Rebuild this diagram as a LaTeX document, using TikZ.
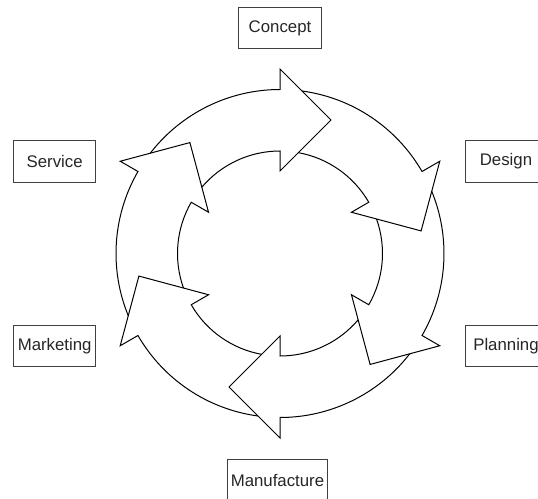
\documentclass[tikz,border=0pt]{standalone}
\usepackage{fontspec}
\setmainfont{Liberation Sans}
\usetikzlibrary{positioning}

% one arrow of the ring, head base at angle #1
\newcommand{\ringarrow}[1]{%
  \draw[line width=1pt, line join=miter] (#1+52.3:164) arc[start angle=#1+52.3, end angle=#1, radius=164]
    -- (#1:184.5) -- (#1-20.91:142.91) -- (#1:82.5) -- (#1:102.5)
    arc[start angle=#1, end angle=#1+49.7, radius=102.5];}

\tikzset{stage/.style={draw=black!75, line width=1pt, rectangle, minimum width=82pt, minimum height=41pt,
    inner xsep=3pt, text=black!85, font=\fontsize{16.8}{20}\selectfont}}

\begin{document}
\begin{tikzpicture}[x=1pt, y=1pt]
    \useasboundingbox (-280,-244.5) rectangle (258,253.5);
    \clip (-280,-244.5) rectangle (258,253.5);

    \node[stage] (concept) at (0,225.3) {Concept};
    \node[stage] (design) at (226,92) {Design};
    \node[stage] (planning) at (226,-92.8) {Planning};
    \node[stage] (manuf) at (-2.5,-226.5) {Manufacture};
    \node[stage] (marketing) at (-225.3,-92.8) {Marketing};
    \node[stage] (service) at (-225.3,92) {Service};

    \ringarrow{90}
    \ringarrow{30}
    \ringarrow{-30}
    \ringarrow{-90}
    \ringarrow{-150}
    \ringarrow{150}
\end{tikzpicture}
\end{document}
